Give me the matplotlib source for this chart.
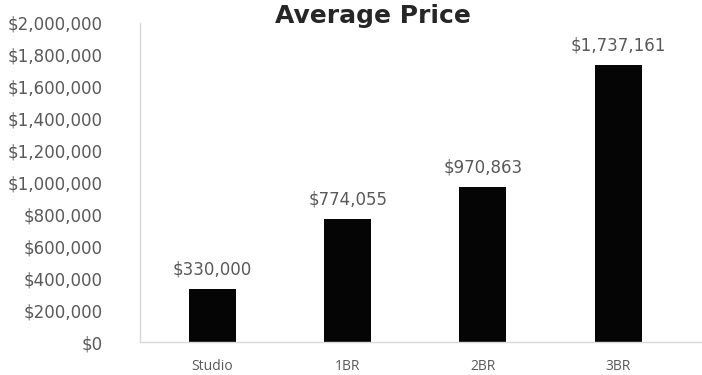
import matplotlib.pyplot as plt
from matplotlib.ticker import FuncFormatter

# Average sale price by unit type
unit_types = ['Studio', '1BR', '2BR', '3BR']
avg_price = [330000, 774055, 970863, 1737161]
y_ticks = list(range(0, 2000001, 200000))

plt.rcParams['font.family'] = ['DejaVu Sans']

fig = plt.figure(figsize=(7.02, 3.75), dpi=100)
ax = fig.add_axes([0.1994, 0.088, 0.8006, 0.8507])

bars = ax.bar(unit_types, avg_price, width=0.347, color='#050505')

# value labels above bars
for bar, val in zip(bars, avg_price):
    ax.annotate(f'${val:,.0f}', (bar.get_x() + bar.get_width() / 2, val),
                xytext=(0, 7.5), textcoords='offset points',
                ha='center', va='bottom', fontsize=12, color='#595959')

ax.set_xlim(-0.535, 3.619)
ax.set_ylim(0, 2000000)
ax.set_yticks(y_ticks)
ax.yaxis.set_major_formatter(FuncFormatter(lambda v, p: f'${v:,.0f}'))

for side in ['top', 'right']:
    ax.spines[side].set_visible(False)
for side in ['left', 'bottom']:
    ax.spines[side].set_color('#d9d9d9')
    ax.spines[side].set_linewidth(1)

ax.tick_params(axis='y', length=0, labelsize=12, labelcolor='#595959', pad=27)
ax.tick_params(axis='x', length=0, labelsize=10, labelcolor='#595959', pad=12)
for lbl in ax.get_xticklabels():
    lbl.set_family(['Open Sans', 'DejaVu Sans'])

fig.text(0.531, 0.938, 'Average Price', ha='center', va='baseline',
         fontsize=18, fontweight='bold', color='#262626')

fig.savefig('out.png', dpi=100)
